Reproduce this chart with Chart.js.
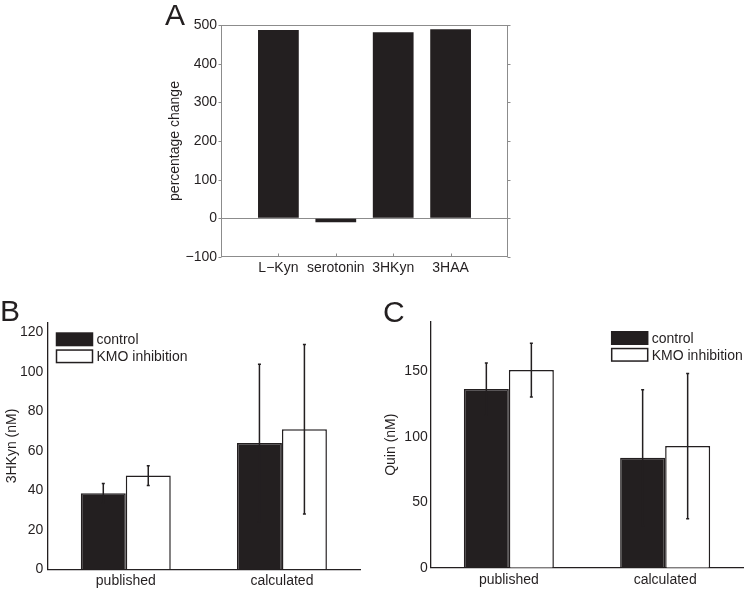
<!DOCTYPE html>
<html><head><meta charset="utf-8">
<script src="https://cdn.jsdelivr.net/npm/chart.js@4/dist/chart.umd.min.js"></script>
<style>
html,body{margin:0;padding:0;background:#fff;}
#wrap{position:relative;width:745px;height:590px;overflow:hidden;font-family:"Liberation Sans",Arial,sans-serif;color:#231f20;}
canvas{position:absolute;}
.lbl{position:absolute;font-size:30px;line-height:30px;}
</style></head><body>
<div id="wrap">
<canvas id="cA" style="left:140px;top:0px;width:380px;height:295px"></canvas>
<canvas id="cB" style="left:0px;top:295px;width:370px;height:295px"></canvas>
<canvas id="cC" style="left:370px;top:295px;width:375px;height:295px"></canvas>
<div class="lbl" style="left:165px;top:0px">A</div>
<div class="lbl" style="left:0px;top:296px">B</div>
<div class="lbl" style="left:383px;top:297px">C</div>
</div>
<script>
// ---------- data ----------
// Panel A
const aCategories = ['L\u2212Kyn', 'serotonin', '3HKyn', '3HAA'];
const aValues = [487, -10, 481, 489];
const aTicks = [-100, 0, 100, 200, 300, 400, 500];
// Panels B and C
const groups = ['published', 'calculated'];
const seriesNames = ['control', 'KMO inhibition'];
const bControl = [38.5, 64];
const bControlErr = [5, 40];
const bKMO = [47.5, 71];
const bKMOErr = [5, 43];
const bTicks = [0, 20, 40, 60, 80, 100, 120];
const cControl = [136.5, 84];
const cControlErr = [20, 52];
const cKMO = [151, 93];
const cKMOErr = [20.5, 55.5];
const cTicks = [0, 50, 100, 150];

// ---------- style ----------
const FONT = "'Liberation Sans', Arial, sans-serif";
const INK = '#231f20';
const GRAY = '#8c8c8c';
Chart.defaults.font.family = FONT;
Chart.defaults.font.size = 14;
Chart.defaults.color = INK;

const errorBars = {
  id: 'errorBars',
  afterDatasetsDraw(chart) {
    const ctx = chart.ctx, y = chart.scales.y;
    ctx.save();
    ctx.strokeStyle = INK; ctx.lineWidth = 1.5;
    chart.data.datasets.forEach((ds, i) => {
      if (!ds.errors) return;
      chart.getDatasetMeta(i).data.forEach((bar, j) => {
        const v = ds.data[j], e = ds.errors[j];
        const yt = y.getPixelForValue(v + e), yb = y.getPixelForValue(v - e);
        const x = bar.x;
        ctx.beginPath();
        ctx.moveTo(x, yt); ctx.lineTo(x, yb);
        ctx.moveTo(x - 1.5, yt); ctx.lineTo(x + 1.5, yt);
        ctx.moveTo(x - 1.5, yb); ctx.lineTo(x + 1.5, yb);
        ctx.stroke();
      });
    });
    ctx.restore();
  }
};

const boxLegend = {
  id: 'boxLegend',
  afterDraw(chart, args, o) {
    if (!o || !o.show) return;
    const ctx = chart.ctx;
    ctx.save();
    ctx.font = '14px ' + FONT;
    ctx.textBaseline = 'middle';
    chart.data.datasets.forEach((ds, i) => {
      const cy = o.y + i * o.rowH;
      ctx.fillStyle = ds.backgroundColor;
      ctx.fillRect(o.x, cy - o.boxH / 2, o.boxW, o.boxH);
      ctx.lineWidth = 1.5; ctx.strokeStyle = ds.borderColor;
      ctx.strokeRect(o.x, cy - o.boxH / 2, o.boxW, o.boxH);
      ctx.fillStyle = INK;
      ctx.fillText(ds.label, o.x + o.boxW + 4, cy + 1);
    });
    ctx.restore();
  }
};

const frameA = {
  id: 'frameA',
  afterDraw(chart) {
    const ctx = chart.ctx;
    const {left, right, top, bottom} = chart.chartArea;
    const x = chart.scales.x, y = chart.scales.y;
    ctx.save();
    ctx.strokeStyle = GRAY; ctx.lineWidth = 1;
    const L = Math.round(left) + 0.5, R = Math.round(right) - 0.5;
    const T = Math.round(top) + 0.5, B = Math.round(bottom) - 0.5;
    ctx.strokeRect(L, T, R - L, B - T);
    ctx.beginPath();
    y.ticks.forEach(t => {
      const py = Math.round(y.getPixelForValue(t.value)) + 0.5;
      ctx.moveTo(L - 3, py); ctx.lineTo(L, py);
      ctx.moveTo(R, py); ctx.lineTo(R + 3, py);
    });
    for (let i = 1; i <= aCategories.length; i++) {
      const px = Math.round(x.getPixelForValue(i)) + 0.5;
      ctx.moveTo(px, B); ctx.lineTo(px, B - 3);
    }
    ctx.stroke();
    ctx.restore();
  }
};

function setTicks(arr) { return s => { s.ticks = arr.map(v => ({value: v})); }; }
const minusFmt = v => (v < 0 ? '\u2212' + Math.abs(v) : String(v));
const base = {
  responsive: false, animation: false, events: [],
  plugins: {legend: {display: false}, tooltip: {enabled: false}}
};

// ---------- Panel A ----------
new Chart(document.getElementById('cA'), {
  type: 'bar',
  data: {
    labels: ['', ...aCategories, ''],
    datasets: [{
      data: [null, ...aValues, null],
      backgroundColor: INK, borderColor: INK, borderWidth: 0,
      categoryPercentage: 1, barPercentage: 0.71
    }]
  },
  options: {
    ...base,
    layout: {padding: {top: 25, right: 12, left: 0, bottom: 0}},
    scales: {
      x: {
        offset: false,
        grid: {display: false, drawTicks: false}, border: {display: false},
        ticks: {autoSkip: false, maxRotation: 0, minRotation: 0, padding: 3},
        afterFit: s => { s.height = 38; }
      },
      y: {
        min: -100, max: 500,
        afterBuildTicks: setTicks(aTicks),
        grid: {drawTicks: false, color: c => (c.tick && c.tick.value === 0) ? GRAY : 'rgba(0,0,0,0)'},
        border: {display: false},
        ticks: {padding: 4, callback: minusFmt},
        title: {display: true, text: 'percentage change', padding: {top: 27, bottom: 0}},
        afterFit: s => { s.width = 81; }
      }
    }
  },
  plugins: [frameA]
});

// ---------- Panels B and C ----------
function groupChart(id, ctrl, ctrlErr, kmo, kmoErr, max, ticks, yTitle, dims, legendPos) {
  return new Chart(document.getElementById(id), {
    type: 'bar',
    data: {
      labels: groups,
      datasets: [
        {label: seriesNames[0], data: ctrl, errors: ctrlErr,
         backgroundColor: INK, borderColor: INK, borderWidth: 1.5,
         categoryPercentage: 0.576, barPercentage: 1},
        {label: seriesNames[1], data: kmo, errors: kmoErr,
         backgroundColor: '#ffffff', borderColor: INK, borderWidth: 1.5,
         categoryPercentage: 0.576, barPercentage: 1}
      ]
    },
    options: {
      ...base,
      layout: {padding: {top: dims.top, right: dims.right, left: 0, bottom: 0}},
      plugins: {...base.plugins, boxLegend: legendPos},
      scales: {
        x: {
          grid: {display: false, drawTicks: false},
          border: {display: true, color: INK, width: 1.3},
          ticks: {autoSkip: false, maxRotation: 0, minRotation: 0, padding: dims.xpad},
          afterFit: s => { s.height = dims.xh; }
        },
        y: {
          min: 0, max: max,
          afterBuildTicks: setTicks(ticks),
          grid: {display: false, drawTicks: false},
          border: {display: true, color: INK, width: 1.3},
          ticks: {padding: dims.ypad},
          title: {display: true, text: yTitle, padding: {top: dims.tpad, bottom: 0}},
          afterFit: s => { s.width = dims.yw; }
        }
      }
    },
    plugins: [errorBars, boxLegend]
  });
}

groupChart('cB', bControl, bControlErr, bKMO, bKMOErr, 125, bTicks, '3HKyn (nM)',
  {top: 27.7, right: 10, xh: 20.7, yw: 47.7, xpad: 3, ypad: 4.4, tpad: 3.3},
  {show: true, x: 56.5, y: 44.3, rowH: 17, boxW: 36, boxH: 12.5});
groupChart('cC', cControl, cControlErr, cKMO, cKMOErr, 188, cTicks, 'Quin (nM)',
  {top: 26.7, right: 1.7, xh: 22.3, yw: 60.7, xpad: 4.5, ypad: 3, tpad: 12.4},
  {show: true, x: 241.7, y: 43, rowH: 16.8, boxW: 36, boxH: 12.5});
</script>
</body></html>
